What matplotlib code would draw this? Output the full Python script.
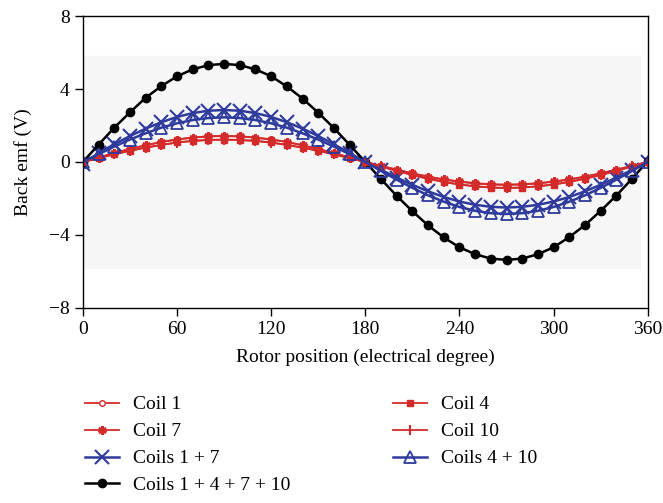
import matplotlib
matplotlib.use("Agg")
import matplotlib.pyplot as plt

plt.rcParams['font.family'] = ['Liberation Serif', 'DejaVu Serif']
plt.rcParams['font.size'] = 14

# rotor position, every 10 electrical degrees
angle = list(range(0, 361, 10))

coil_1 = [0, 0.25, 0.49, 0.72, 0.92, 1.10, 1.24, 1.34, 1.41, 1.43, 1.41, 1.34, 1.24, 1.10, 0.92, 0.72, 0.49, 0.25, 0.0,
          -0.22, -0.43, -0.63, -0.81, -0.97, -1.09, -1.18, -1.24, -1.26, -1.24, -1.18, -1.09, -0.97, -0.81, -0.63, -0.43, -0.22, 0.0]
coil_7 = [0, 0.24, 0.48, 0.71, 0.91, 1.09, 1.23, 1.33, 1.40, 1.42, 1.40, 1.33, 1.23, 1.09, 0.91, 0.71, 0.48, 0.24, 0.0,
          -0.21, -0.42, -0.62, -0.80, -0.95, -1.07, -1.16, -1.22, -1.24, -1.22, -1.16, -1.07, -0.95, -0.80, -0.62, -0.42, -0.21, 0.0]
coil_4 = [0, 0.21, 0.42, 0.62, 0.79, 0.94, 1.07, 1.16, 1.21, 1.23, 1.21, 1.16, 1.07, 0.94, 0.79, 0.62, 0.42, 0.21, 0.0,
          -0.25, -0.49, -0.72, -0.92, -1.10, -1.24, -1.34, -1.41, -1.43, -1.41, -1.34, -1.24, -1.10, -0.92, -0.72, -0.49, -0.25, 0.0]
coil_10 = [0, 0.21, 0.42, 0.61, 0.78, 0.93, 1.06, 1.15, 1.20, 1.22, 1.20, 1.15, 1.06, 0.93, 0.78, 0.61, 0.42, 0.21, 0.0,
           -0.24, -0.48, -0.71, -0.91, -1.09, -1.23, -1.33, -1.40, -1.42, -1.40, -1.33, -1.23, -1.09, -0.91, -0.71, -0.48, -0.24, 0.0]
coils_1_7 = [-0.1, 0.49, 0.97, 1.42, 1.83, 2.18, 2.47, 2.68, 2.81, 2.85, 2.81, 2.68, 2.47, 2.18, 1.83, 1.42, 0.97, 0.49, 0.0,
             -0.43, -0.86, -1.25, -1.61, -1.92, -2.17, -2.35, -2.46, -2.50, -2.46, -2.35, -2.17, -1.92, -1.61, -1.25, -0.86, -0.43, 0.0]
coils_4_10 = [0, 0.43, 0.84, 1.23, 1.57, 1.88, 2.12, 2.30, 2.41, 2.45, 2.41, 2.30, 2.12, 1.88, 1.57, 1.23, 0.84, 0.43, 0.0,
              -0.49, -0.97, -1.42, -1.83, -2.18, -2.47, -2.68, -2.81, -2.85, -2.81, -2.68, -2.47, -2.18, -1.83, -1.42, -0.97, -0.49, 0.0]
coils_all = [0, 0.95, 1.88, 2.72, 3.52, 4.16, 4.70, 5.08, 5.31, 5.38, 5.31, 5.08, 4.70, 4.14, 3.48, 2.70, 1.86, 0.94, 0.0,
             -0.94, -1.86, -2.70, -3.48, -4.14, -4.68, -5.06, -5.30, -5.37, -5.30, -5.06, -4.68, -4.12, -3.46, -2.68, -1.84, -0.92, 0.05]

red = '#d42a2a'
blue = '#2e3a9c'

fig = plt.figure(figsize=(6.63, 5.03), dpi=100)
ax = fig.add_axes([0.125, 0.388, 0.852, 0.580])

# light plot-area band behind the curves
ax.axhspan(-5.8, 5.8, xmin=0, xmax=0.986, color='#f6f6f6', zorder=0)

ax.plot(angle, coil_1, color=red, lw=1.3, marker='o', ms=4, mfc='white', mec=red, mew=1, label='Coil 1')
ax.plot(angle, coil_7, color=red, lw=1.3, marker=(6, 2, 0), ms=6, mec=red, mew=2, label='Coil 7')
ax.plot(angle, coils_1_7, color=blue, lw=1.8, marker='x', ms=10, mew=1.5, label='Coils 1 + 7')
ax.plot(angle, coils_all, color='black', lw=1.8, marker='o', ms=6, label='Coils 1 + 4 + 7 + 10')
ax.plot(angle, coil_4, color=red, lw=1.3, marker='s', ms=5, mfc=red, mec=red, label='Coil 4')
ax.plot(angle, coil_10, color=red, lw=1.3, marker='|', ms=7, mew=1.5, label='Coil 10')
ax.plot(angle, coils_4_10, color=blue, lw=1.8, marker='^', ms=8, mfc='none', mec=blue, mew=1.3, label='Coils 4 + 10')

ax.set_xlim(0, 360)
ax.set_ylim(-8, 8)
ax.set_xticks([0, 60, 120, 180, 240, 300, 360])
ax.set_yticks([-8, -4, 0, 4, 8])
ax.tick_params(direction='out', length=6, width=1, top=False, right=False)
for s in ax.spines.values():
    s.set_linewidth(1)
ax.set_xlabel('Rotor position (electrical degree)', labelpad=8)
ax.set_ylabel('Back emf (V)', labelpad=12)

fig.legend(loc='upper left', bbox_to_anchor=(0.128, 0.213), ncol=2, frameon=False,
           handlelength=1.75, handletextpad=0.72, columnspacing=5.3, labelspacing=0.48,
           borderaxespad=0, borderpad=0)

fig.savefig('out.png', dpi=100)
